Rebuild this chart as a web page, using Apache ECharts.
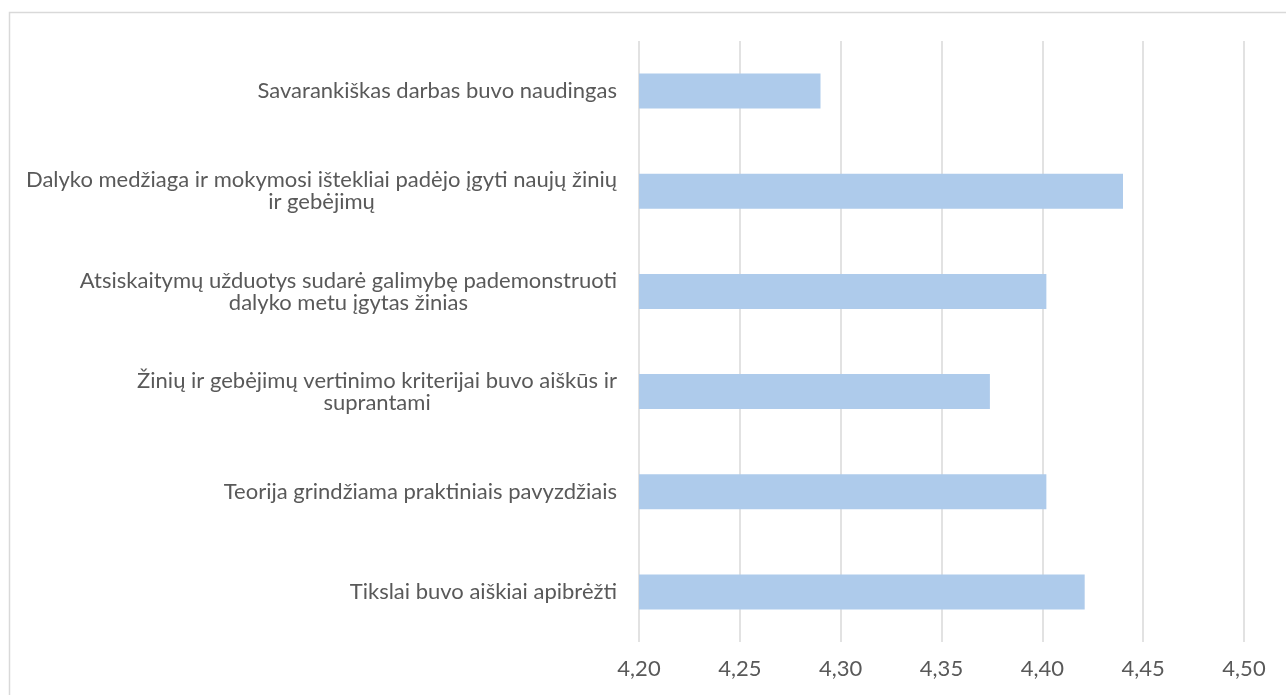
<!DOCTYPE html>
<html>
<head>
<meta charset="utf-8">
<script src="https://cdn.jsdelivr.net/npm/echarts@6/dist/echarts.min.js"></script>
<style>
html,body{margin:0;padding:0;background:#fff;}
#chart{width:1286px;height:695px;}
</style>
</head>
<body>
<div id="chart"></div>
<script>
const categories = [
  "Savarankiškas darbas buvo naudingas",
  "Dalyko medžiaga ir mokymosi ištekliai padėjo įgyti naujų žinių\nir gebėjimų",
  "Atsiskaitymų užduotys sudarė galimybę pademonstruoti\ndalyko metu įgytas žinias",
  "Žinių ir gebėjimų vertinimo kriterijai buvo aiškūs ir\nsuprantami",
  "Teorija grindžiama praktiniais pavyzdžiais",
  "Tikslai buvo aiškiai apibrėžti"
];
const values = [4.29, 4.44, 4.402, 4.374, 4.402, 4.421];
const axisMin = 4.20, axisMax = 4.50, axisStep = 0.05;

const chart = echarts.init(document.getElementById('chart'));
const font = 'Lato, "Open Sans", sans-serif';
const fs = 22;
chart.setOption({
  animation: false,
  graphic: [{
    type: 'rect',
    shape: {x: 9.5, y: 12.5, width: 1300, height: 700},
    style: {fill: 'none', stroke: '#d9d9d9', lineWidth: 1.5},
    silent: true
  }],
  grid: {left: 639, right: 42, top: 41, bottom: 53, containLabel: false},
  xAxis: {
    type: 'value',
    min: axisMin, max: axisMax, interval: axisStep,
    axisLine: {show: false},
    axisTick: {show: false},
    splitLine: {lineStyle: {color: '#d9d9d9', width: 1.5}},
    axisLabel: {
      color: '#595959', fontFamily: font, fontSize: fs, margin: 16,
      formatter: v => v.toFixed(2).replace('.', ',')
    }
  },
  yAxis: {
    type: 'category',
    inverse: true,
    data: categories,
    axisLine: {show: false},
    axisTick: {show: false},
    axisLabel: {
      color: '#595959', fontFamily: font, fontSize: fs, margin: 22,
      align: 'right', lineHeight: 22,
      formatter: v => v.split('\n').map(l => '{c|' + l + '}').join('\n'),
      rich: {c: {align: 'center', color: '#595959', fontFamily: font, fontSize: fs, lineHeight: 22}}
    }
  },
  series: [{
    type: 'bar',
    data: values,
    barWidth: '35%',
    itemStyle: {color: '#aecbeb'}
  }]
});
</script>
</body>
</html>
